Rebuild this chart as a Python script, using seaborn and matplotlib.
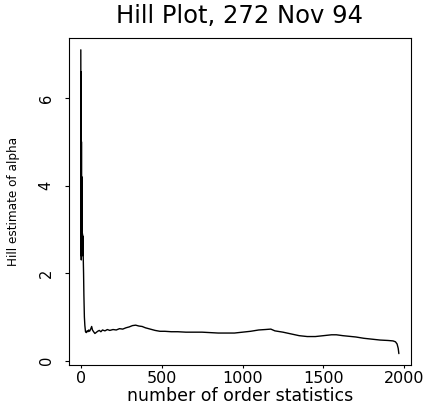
import matplotlib
matplotlib.use("Agg")
import matplotlib.pyplot as plt
import seaborn as sns
import pandas as pd

# Data (order statistic index, Hill estimate)
order_k = [1, 2, 3, 4, 5, 6, 7, 8, 9, 10, 11, 12, 13, 14, 15, 16, 18, 20, 23, 26,
           30, 35, 40, 45, 50, 55, 62, 68, 73, 80, 88, 95, 105, 115, 125, 135, 150,
           165, 180, 200, 220, 240, 260, 280, 300, 320, 340, 360, 380, 400, 430, 460,
           490, 520, 560, 600, 650, 700, 750, 800, 850, 900, 950, 1000, 1050, 1100,
           1140, 1175, 1200, 1250, 1300, 1350, 1400, 1450, 1500, 1550, 1580, 1620,
           1700, 1750, 1800, 1850, 1900, 1930, 1945, 1955, 1962, 1966]
hill_alpha = [7.1, 2.4, 6.6, 2.3, 5.0, 2.5, 4.2, 2.6, 3.6, 2.4, 2.9, 2.4, 2.85, 2.5,
              2.7, 2.35, 2.0, 1.5, 1.0, 0.8,
              0.66, 0.64, 0.68, 0.66, 0.70, 0.67, 0.72, 0.78, 0.70, 0.66, 0.62, 0.64,
              0.67, 0.69, 0.66, 0.70, 0.68, 0.71, 0.69, 0.71, 0.70, 0.73, 0.72, 0.75,
              0.77, 0.80, 0.81, 0.79, 0.78, 0.75, 0.72, 0.69, 0.67, 0.67, 0.66, 0.66,
              0.65, 0.65, 0.65, 0.64, 0.63, 0.63, 0.63, 0.65, 0.67, 0.70, 0.71, 0.72,
              0.68, 0.65, 0.61, 0.57, 0.55, 0.55, 0.57, 0.59, 0.59, 0.57, 0.54, 0.51,
              0.49, 0.47, 0.46, 0.45, 0.43, 0.38, 0.28, 0.16]
x_ticks = [0, 500, 1000, 1500, 2000]
y_ticks = [0, 2, 4, 6]

title_text = "Hill Plot, 272 Nov 94"
x_label = "number of order statistics"
y_label = "Hill estimate of alpha"

df = pd.DataFrame({"k": order_k, "alpha": hill_alpha})

sns.set_style("white")
plt.rcParams["font.family"] = ["DejaVu Sans"]

W, H = 430, 404
fig = plt.figure(figsize=(W / 100, H / 100), dpi=100)
ax_l, ax_r, ax_t, ax_b = 69, 411, 38, 365
ax = fig.add_axes([ax_l / W, 1 - ax_b / H, (ax_r - ax_l) / W, (ax_b - ax_t) / H])

sns.lineplot(data=df, x="k", y="alpha", ax=ax, color="black", linewidth=1.0,
             estimator=None, sort=False)

ax.set_xlim(-72, 2041)
ax.set_ylim(-0.1, 7.37)
ax.set_xticks(x_ticks)
ax.set_xticklabels([str(v) for v in x_ticks])
ax.set_yticks(y_ticks)
ax.set_yticklabels([str(v) for v in y_ticks])

for s in ax.spines.values():
    s.set_visible(True)
    s.set_color("black")
    s.set_linewidth(0.8)

ax.tick_params(axis="x", direction="out", length=2.2, width=0.8, pad=2.0,
               labelsize=11.5, colors="black", bottom=True)
ax.tick_params(axis="y", direction="out", length=3.0, width=0.8, pad=8.0,
               labelsize=10.5, colors="black", left=True, labelrotation=90)
for t in ax.get_yticklabels():
    t.set_verticalalignment("center")

ax.set_title(title_text, fontsize=17.5, pad=11, color="black")

ax.set_xlabel(x_label, fontsize=12.5, color="black")
ax.xaxis.set_label_coords(0.5, -(401 - ax_b) / (ax_b - ax_t))
ax.xaxis.label.set_verticalalignment("baseline")

ax.set_ylabel(y_label, fontsize=9.6, color="black", fontstretch="condensed")
ax.yaxis.set_label_coords(-(ax_l - 14) / (ax_r - ax_l), 0.5)
ax.yaxis.label.set_verticalalignment("center")

fig.savefig("out.png", dpi=100)
